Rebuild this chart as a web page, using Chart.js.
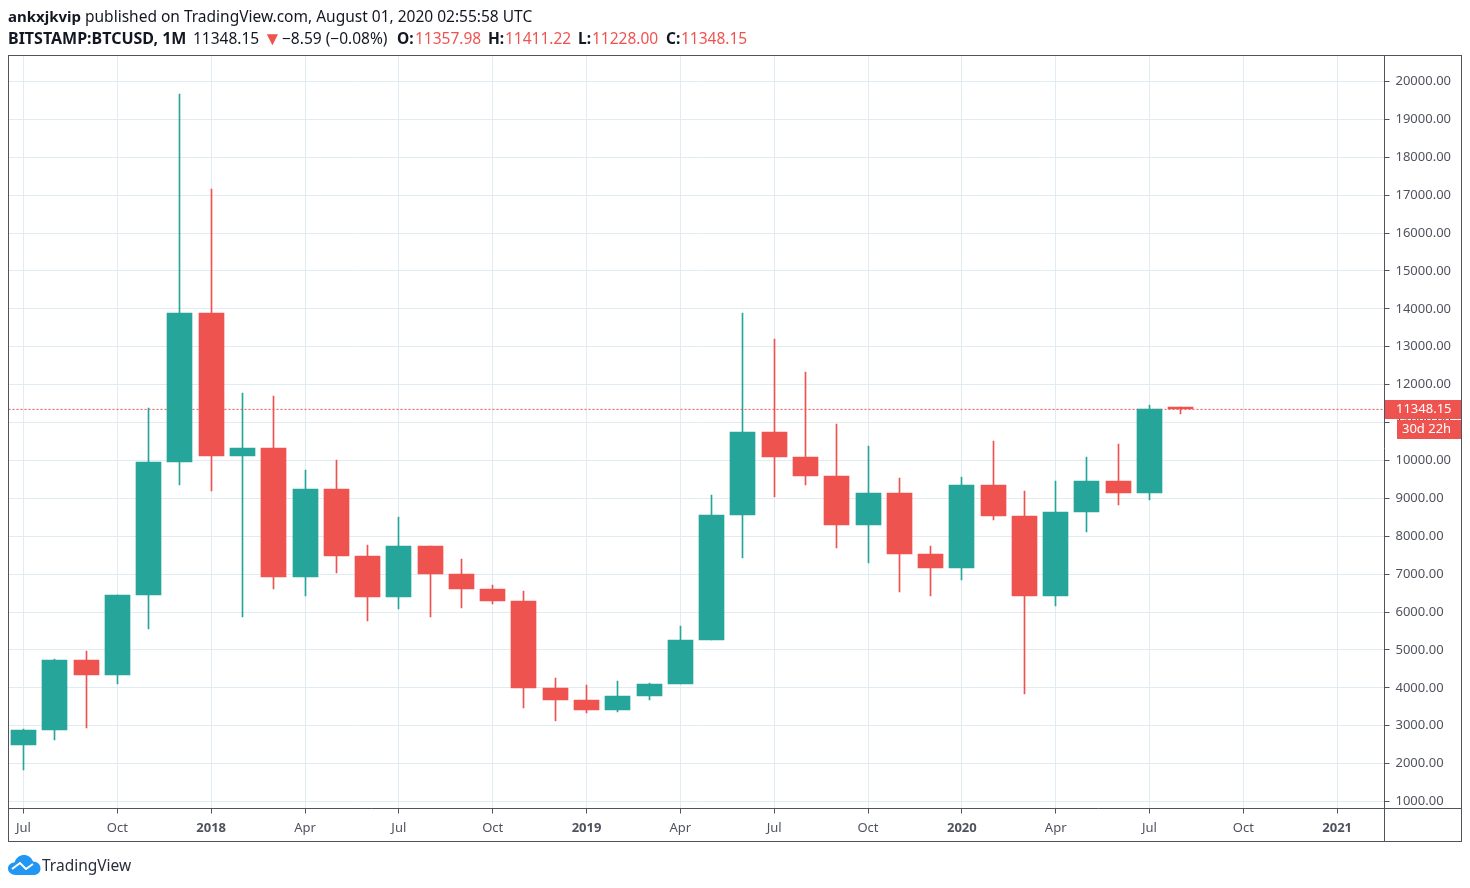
<!DOCTYPE html>
<html>
<head>
<meta charset="utf-8">
<title>BITSTAMP:BTCUSD, 1M</title>
<script src="https://cdn.jsdelivr.net/npm/chart.js@4"></script>
<style>
    html, body { margin: 0; padding: 0; background: #fff; width: 1470px; height: 888px; overflow: hidden; }
    body { position: relative; font-family: "Noto Sans", sans-serif; color: #131722; }
    canvas { position: absolute; left: 0; top: 0; }
    .t { position: absolute; white-space: nowrap; font-size: 15.5px; line-height: 20px; }
    .r1 { top: 6px; }
    .r2 { top: 28px; }
    .rosso { color: #ef5350; }
    b { font-weight: 700; }
    #logo { position: absolute; left: 8px; top: 854px; }
    #marchio { position: absolute; left: 42px; top: 853px; font-size: 15.500px; line-height: 24px; color: #2a2e39; }
</style>
</head>
<body>
<canvas id="grafico" width="1470" height="888"></canvas>
<b class="t r1" style="left:8px;font-size:15px">ankxjkvip</b>
<span class="t r1" style="left:85px">published on TradingView.com, August 01, 2020 02:55:58 UTC</span>
<b class="t r2" style="left:8px;font-size:16px">BITSTAMP:BTCUSD, 1M</b>
<span class="t r2" style="left:193px">11348.15</span>
<span class="t r2 rosso" style="left:263px;font-size:19px">▼</span>
<span class="t r2" style="left:282px">−8.59 (−0.08%)</span>
<b class="t r2" style="left:397px">O:</b><span class="t r2 rosso" style="left:415px">11357.98</span>
<b class="t r2" style="left:488px">H:</b><span class="t r2 rosso" style="left:505px">11411.22</span>
<b class="t r2" style="left:578px">L:</b><span class="t r2 rosso" style="left:592px">11228.00</span>
<b class="t r2" style="left:666px">C:</b><span class="t r2 rosso" style="left:681px">11348.15</span>
<svg id="logo" width="33" height="22" viewBox="0 0 33 22">
    <path d="M8 21 C3 21 0 18 0 14.500 C0 11 3 8.500 6.500 8.500 C8 3.500 12 1 16 1 C20 1 23.500 3.500 25 7.500 C29.500 7.500 32.500 10.500 32.500 14.500 C32.500 18.500 29.500 21 25.500 21 Z" fill="#2196f3"/>
    <path d="M4 15 L12 9 L18 15 L25 10" fill="none" stroke="#fff" stroke-width="2"/>
</svg>
<div id="marchio">TradingView</div>
<script>
// candele mensili, da luglio 2017 ad agosto 2020
const aperture = [2480, 2875, 4735, 4338, 6440, 9946, 13880, 10130, 10320, 6925, 9245, 7490, 6390, 7730, 7010, 6600, 6300, 3990, 3690, 3410, 3790, 4100, 5270, 8550, 10760, 10090, 9600, 8290, 9150, 7540, 7170, 9350, 8530, 6410, 8630, 9450, 9140, 11357.98];
const massimi = [2920, 4750, 4980, 6447, 11395, 19666, 17176, 11786, 11710, 9750, 10000, 7770, 8500, 7750, 7400, 6720, 6550, 4250, 4070, 4190, 4130, 5620, 9090, 13880, 13200, 12330, 10950, 10370, 9530, 7750, 9560, 10500, 9190, 9470, 10080, 10430, 11450, 11411.22];
const minimi = [1830, 2610, 2951, 4110, 5555, 9340, 9200, 5873, 6600, 6430, 7036, 5750, 6070, 5880, 6100, 6200, 3460, 3120, 3340, 3360, 3670, 4090, 5260, 7420, 9040, 9350, 7700, 7300, 6530, 6430, 6850, 8440, 3850, 6150, 8120, 8820, 8950, 11228];
const chiusure = [2875, 4735, 4338, 6440, 9946, 13880, 10130, 10320, 6925, 9245, 7490, 6390, 7730, 7010, 6600, 6300, 3990, 3690, 3410, 3790, 4100, 5270, 8550, 10760, 10090, 9600, 8290, 9150, 7540, 7170, 9350, 8530, 6410, 8630, 9450, 9140, 11357.98, 11348.15];

const etichetteMesi = ['Jul', 'Oct', '2018', 'Apr', 'Jul', 'Oct', '2019', 'Apr', 'Jul', 'Oct', '2020', 'Apr', 'Jul', 'Oct', '2021'];
const posizioniMesi = [0, 3, 6, 9, 12, 15, 18, 21, 24, 27, 30, 33, 36, 39, 42];
const tickPrezzo = [1000, 2000, 3000, 4000, 5000, 6000, 7000, 8000, 9000, 10000, 11000, 12000, 13000, 14000, 15000, 16000, 17000, 18000, 19000, 20000];

const ultimoPrezzo = 11348.15;
const contoRovescia = '30d 22h';

const VERDE = '#26a69a';
const ROSSO = '#ef5350';
const BORDO = '#50535e';
const GRIGLIA = '#e1ecf2';
const FONT = '"Noto Sans", sans-serif';

const xMin = -0.4796, xMax = 43.513;
const yMin = 815.3, yMax = 20686;

function coloreCandela(ctx) {
    const i = ctx.dataIndex;
    return chiusure[i] >= aperture[i] ? VERDE : ROSSO;
}

const corpi = aperture.map((a, i) => ({ x: i, y: [a, chiusure[i]] }));
const stoppini = minimi.map((l, i) => ({ x: i, y: [l, massimi[i]] }));

// porta le candele sul pixel intero, altrimenti il bordo viene sfocato
const allinea = {
    id: 'allinea',
    afterDatasetsUpdate(chart) {
        [0, 1].forEach(n => {
            chart.getDatasetMeta(n).data.forEach(el => {
                el.x = Math.floor(el.x) + 0.5;
                el.y = Math.round(el.y);
                el.base = Math.round(el.base);
            });
        });
    }
};

// cornice ed etichette del prezzo corrente
const cornice = {
    id: 'cornice',
    afterDraw(chart) {
        const c = chart.ctx;
        const a = chart.chartArea;
        const y = chart.scales.y.getPixelForValue(ultimoPrezzo);
        c.save();
        c.strokeStyle = BORDO;
        c.lineWidth = 1;
        c.strokeRect(8.5, 55.5, 1453, 786);
        c.beginPath();
        c.moveTo(a.right, 55.5); c.lineTo(a.right, 841.5);
        c.moveTo(8.5, a.bottom); c.lineTo(1461.5, a.bottom);
        c.stroke();

        c.fillStyle = ROSSO;
        c.fillRect(1385, Math.round(y) - 9, 76, 19);
        c.fillRect(1397, Math.round(y) + 11, 64, 19);
        c.fillStyle = '#fff';
        c.font = '13px ' + FONT;
        c.textAlign = 'left';
        c.textBaseline = 'middle';
        c.fillText(ultimoPrezzo.toFixed(2), 1396, Math.round(y) + 0.5);
        c.fillText(contoRovescia, 1402, Math.round(y) + 20.5);
        c.restore();
    }
};

new Chart(document.getElementById('grafico').getContext('2d'), {
    data: {
        datasets: [
            {
                type: 'bar',
                data: corpi,
                backgroundColor: coloreCandela,
                barThickness: 25,
                minBarLength: 2,
                grouped: false,
                order: 1
            },
            {
                type: 'bar',
                data: stoppini,
                backgroundColor: coloreCandela,
                barThickness: 1,
                grouped: false,
                order: 2
            },
            {
                type: 'line',
                data: [{ x: xMin, y: ultimoPrezzo }, { x: xMax, y: ultimoPrezzo }],
                borderColor: ROSSO,
                borderWidth: 1,
                borderDash: [2, 2],
                pointRadius: 0,
                order: 3
            }
        ]
    },
    options: {
        responsive: false,
        animation: false,
        layout: { padding: { left: 8.5, top: 55.5, right: 8.5, bottom: 46.5 } },
        plugins: { legend: { display: false }, tooltip: { enabled: false } },
        scales: {
            x: {
                type: 'linear',
                offset: false,
                min: xMin,
                max: xMax,
                afterBuildTicks: (scale) => { scale.ticks = posizioniMesi.map(v => ({ value: v })); },
                afterFit: (scale) => { scale.height = 33; },
                border: { display: false },
                grid: { offset: false, color: GRIGLIA, tickColor: BORDO, tickLength: 5, lineWidth: 1 },
                ticks: {
                    maxRotation: 0,
                    autoSkip: false,
                    padding: 7,
                    color: BORDO,
                    font: (ctx) => ({
                        family: FONT,
                        size: 13,
                        weight: ctx.tick && ctx.tick.value % 12 === 6 ? 'bold' : 'normal'
                    }),
                    callback: (v) => etichetteMesi[posizioniMesi.indexOf(v)]
                }
            },
            y: {
                type: 'linear',
                position: 'right',
                min: yMin,
                max: yMax,
                afterBuildTicks: (scale) => { scale.ticks = tickPrezzo.map(v => ({ value: v })); },
                afterFit: (scale) => { scale.width = 77; },
                border: { display: false },
                grid: { color: GRIGLIA, tickColor: BORDO, tickLength: 5, lineWidth: 1 },
                ticks: {
                    autoSkip: false,
                    padding: 6,
                    color: BORDO,
                    font: { family: FONT, size: 13 },
                    callback: (v) => v.toFixed(2)
                }
            }
        }
    },
    plugins: [allinea, cornice]
});
</script>
</body>
</html>
